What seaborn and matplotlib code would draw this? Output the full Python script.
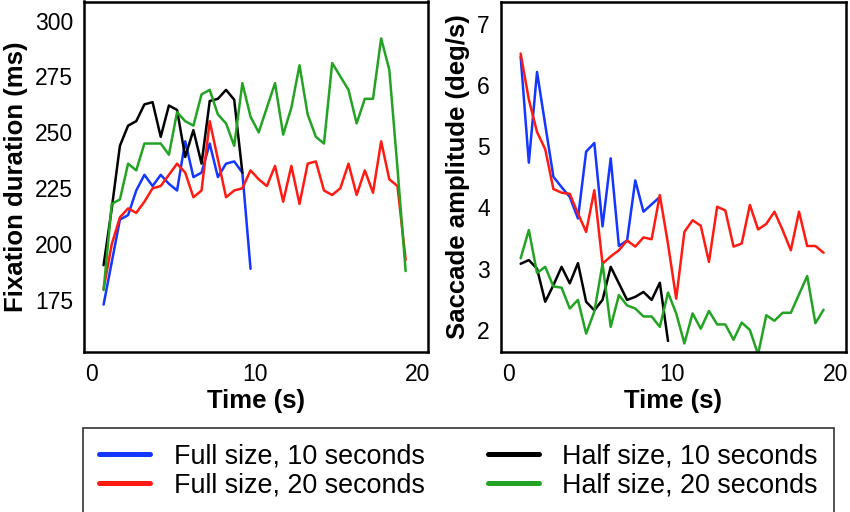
import numpy as np
import pandas as pd
import seaborn as sns
import matplotlib
matplotlib.use('Agg')
import matplotlib.pyplot as plt

# time bins (s), 0.5 s wide, plotted at bin centre
time_s = [0.75, 1.25, 1.75, 2.25, 2.75, 3.25, 3.75, 4.25, 4.75, 5.25,
          5.75, 6.25, 6.75, 7.25, 7.75, 8.25, 8.75, 9.25, 9.75, 10.25,
          10.75, 11.25, 11.75, 12.25, 12.75, 13.25, 13.75, 14.25, 14.75, 15.25,
          15.75, 16.25, 16.75, 17.25, 17.75, 18.25, 18.75, 19.25]

# fixation duration (ms)
fix_full10 = [173, 192, 211, 213, 224, 231, 226, 231, 227, 224,
              246, 230, 232, 245, 230, 236, 237, 232, 189]
fix_full20 = [180, 200, 212, 216, 214, 219, 225, 226, 231, 236,
              232, 221, 224, 255, 238, 221, 224, 225, 233, 229,
              226, 235, 219, 235, 218, 236, 237, 224, 222, 225,
              236, 222, 233, 223, 246, 229, 226, 193]
fix_half10 = [190.6, 216, 244, 253, 255, 262.5, 263.5, 248, 262, 260,
              239, 251, 236, 264, 265, 269, 264.6, 232]
fix_half20 = [179.5, 218, 220, 236, 233, 245, 245, 245, 240, 259,
              255, 253, 267, 269, 258, 254, 244, 272, 257, 250,
              261, 272, 249, 261, 280, 258, 248, 245, 281, 275,
              269, 254, 265, 265, 292, 278, 234, 188]

# saccade amplitude (deg/s)
sac_full10 = [6.46, 4.73, 6.21, 5.35, 4.50, 4.33, 4.17, 3.82, 4.91, 5.05,
              3.69, 4.80, 3.37, 3.46, 4.44, 3.93, 4.05, 4.17]
sac_full20 = [6.51, 5.76, 5.23, 4.95, 4.30, 4.24, 4.22, 3.90, 3.60, 4.28,
              3.08, 3.20, 3.30, 3.46, 3.36, 3.51, 3.48, 4.20, 3.40, 2.51,
              3.60, 3.79, 3.70, 3.11, 4.01, 3.95, 3.36, 3.41, 4.04, 3.64,
              3.73, 3.93, 3.63, 3.30, 3.93, 3.37, 3.37, 3.26]
sac_half10 = [3.08, 3.14, 3.00, 2.46, 2.73, 3.03, 2.76, 3.09, 2.46, 2.32,
              2.49, 3.03, 2.76, 2.49, 2.54, 2.62, 2.49, 2.77, 1.82]
sac_half20 = [3.17, 3.63, 2.93, 3.03, 2.71, 2.69, 2.35, 2.49, 1.94, 2.30,
              3.08, 2.05, 2.57, 2.40, 2.35, 2.22, 2.22, 2.05, 2.61, 2.27,
              1.78, 2.27, 2.02, 2.31, 2.09, 2.09, 1.84, 2.12, 2.00, 1.60,
              2.24, 2.15, 2.28, 2.28, 2.58, 2.88, 2.11, 2.33]

labels = ["Full size, 10 seconds", "Full size, 20 seconds",
          "Half size, 10 seconds", "Half size, 20 seconds"]
colors = ["#1436ff", "#ff1a12", "#000000", "#23a323"]

sns.set_style('white')
plt.rcParams['font.family'] = ['Liberation Sans', 'DejaVu Sans']
plt.rcParams['text.color'] = 'black'
plt.rcParams['axes.labelcolor'] = 'black'
plt.rcParams['xtick.color'] = 'black'
plt.rcParams['ytick.color'] = 'black'

fig = plt.figure(figsize=(8.5, 5.12), dpi=100)
ax1 = fig.add_axes([84/850, 1 - 352/512, (428 - 84)/850, (352 - 1.5)/512])
ax2 = fig.add_axes([501/850, 1 - 352/512, (846 - 501)/850, (352 - 1.5)/512])

fix = [fix_full10, fix_full20, fix_half10, fix_half20]
sac = [sac_full10, sac_full20, sac_half10, sac_half20]

for ax, series in [(ax1, fix), (ax2, sac)]:
    for vals, c in zip(series, colors):
        sns.lineplot(x=time_s[:len(vals)], y=vals, color=c, lw=1.8, ax=ax)

ax1.set_xlim(-0.45, 20.62)
ax1.set_ylim(151.8, 308.5)
ax1.set_yticks([175, 200, 225, 250, 275, 300])
ax1.set_ylabel("Fixation duration (ms)", fontsize=18.5, fontweight='bold', labelpad=5)

ax2.set_xlim(-0.45, 20.62)
ax2.set_ylim(1.64, 7.36)
ax2.set_yticks([2, 3, 4, 5, 6, 7])
ax2.set_ylabel("Saccade amplitude (deg/s)", fontsize=18.5, fontweight='bold', labelpad=5)

for ax in [ax1, ax2]:
    ax.set_xticks([0, 10, 20])
    ax.set_xlabel("Time (s)", fontsize=18.5, fontweight='bold', labelpad=2)
    ax.tick_params(length=0, labelsize=16.5, pad=8)
    for sp in ax.spines.values():
        sp.set_color('black')
        sp.set_linewidth(1.8)

handles = ax1.get_lines()[:4]
leg = fig.legend(handles, labels, loc='upper left', ncol=2,
                 bbox_to_anchor=(83/850, 1 - 427.5/512),
                 fontsize=19.4, frameon=True, fancybox=False, handlelength=1.9,
                 handletextpad=0.86, borderpad=0.6, labelspacing=0.12,
                 columnspacing=2.35, borderaxespad=0)
leg.get_frame().set_edgecolor('black')
leg.get_frame().set_linewidth(1.2)
for h in leg.legend_handles:
    h.set_linewidth(3.6)

fig.savefig('out.png', dpi=100)
